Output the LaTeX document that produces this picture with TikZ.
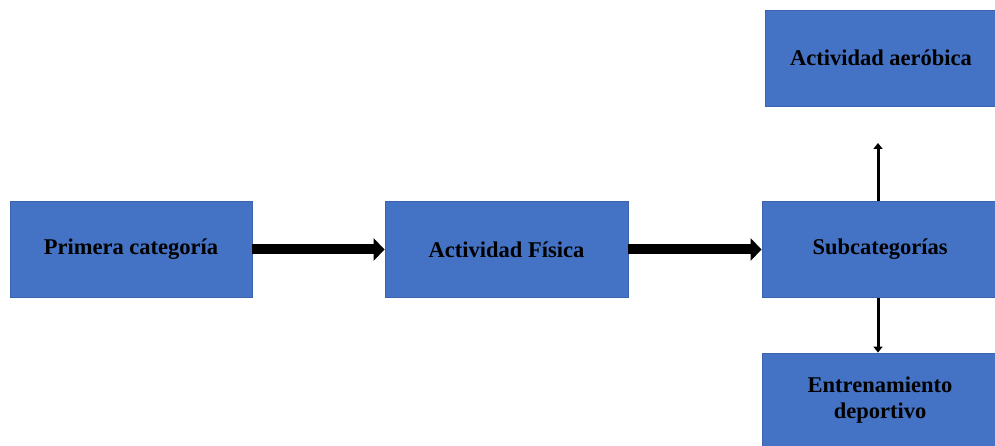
\documentclass[tikz,border=0pt]{standalone}
\usepackage{fontspec}
\setmainfont{Liberation Serif}
\usetikzlibrary{arrows.meta}
\definecolor{boxblue}{HTML}{4472C4}
\definecolor{boxedge}{HTML}{3B64AD}
\begin{document}
\begin{tikzpicture}[x=1pt,y=-1pt,
  catbox/.style={draw=boxedge,line width=0.8pt,fill=boxblue,rectangle,inner sep=0pt,
    font=\fontsize{22.5}{26}\selectfont\bfseries,align=center,text=black},
  bigarrow/.style={line width=10pt,-{Triangle[length=11pt,width=22pt]}},
  thinarrow/.style={line width=3pt,-{Triangle[length=6pt,width=9pt]}}]
\useasboundingbox (0,0) rectangle (995,446);
\node[catbox,minimum width=242pt,minimum height=96pt] (prim) at (131,249.5) {Primera categoría};
\node[catbox,minimum width=243pt,minimum height=96pt] (fis) at (506.5,249.5) {Actividad Física};
\node[catbox,minimum width=236pt,minimum height=96pt] (sub) at (880,249.5) {Subcategorías};
\node[catbox,minimum width=232pt,minimum height=96pt] (aer) at (881,58) {Actividad aeróbica};
\node[catbox,minimum width=236pt,minimum height=95pt] (ent) at (880,400.5) {Entrenamiento\\deportivo};
\coordinate (upend) at (878,143);
\draw[bigarrow] (prim.east) -- (fis.west);
\draw[bigarrow] (fis.east) -- (sub.west);
\draw[thinarrow] (sub.north -| upend) -- (upend);
\draw[thinarrow] (sub.south -| upend) -- (ent.north -| upend);
\end{tikzpicture}
\end{document}
